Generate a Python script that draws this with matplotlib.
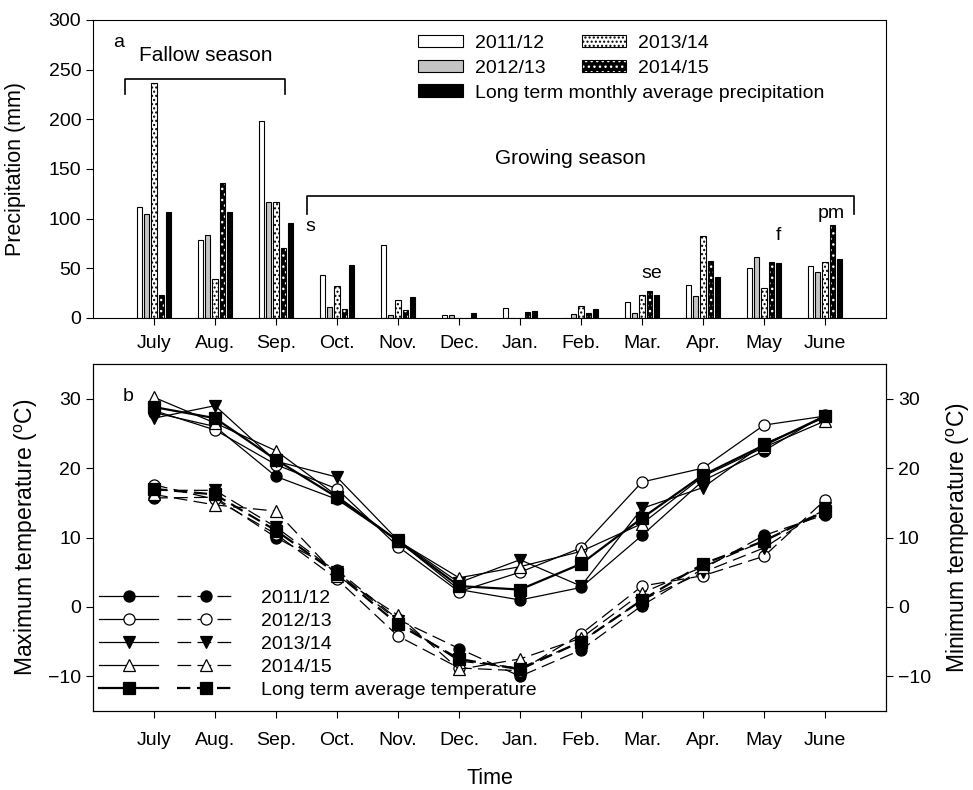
import numpy as np
import matplotlib
matplotlib.use("Agg")
import matplotlib.pyplot as plt
from matplotlib.legend_handler import HandlerTuple

plt.rcParams['font.family'] = ['Liberation Sans', 'DejaVu Sans']
plt.rcParams['mathtext.fontset'] = 'custom'
plt.rcParams['mathtext.rm'] = 'Liberation Sans'

# datos
months = ['July', 'Aug.', 'Sep.', 'Oct.', 'Nov.', 'Dec.', 'Jan.', 'Feb.', 'Mar.', 'Apr.', 'May', 'June']
seasons = ['2011/12', '2012/13', '2013/14', '2014/15']

p_2011 = [112, 79, 198, 43, 73, 3, 10, 0, 16, 33, 50, 52]
p_2012 = [105, 84, 117, 11, 3, 3, 0, 4, 5, 22, 61, 46]
p_2013 = [237, 39, 117, 32, 18, 0, 0, 12, 23, 83, 30, 56]
p_2014 = [23, 136, 70, 9, 8, 0, 6, 5, 27, 57, 56, 94]
p_lt = [107, 107, 96, 53, 21, 5, 7, 9, 23, 41, 55, 59]

t_max_2011 = [28.0, 26.0, 18.8, 15.5, 9.5, 2.5, 1.0, 2.8, 10.3, 18.2, 22.5, 27.7]
t_max_2012 = [28.3, 25.5, 20.5, 17.0, 8.7, 2.2, 5.0, 8.5, 18.0, 20.0, 26.2, 27.5]
t_max_2013 = [27.2, 29.0, 21.0, 18.7, 9.6, 3.5, 6.8, 3.0, 14.2, 17.2, 23.5, 27.3]
t_max_2014 = [30.2, 26.5, 22.5, 16.0, 9.5, 4.2, 5.8, 8.0, 12.0, 18.8, 23.0, 26.8]
t_max_lt = [28.8, 27.2, 21.2, 15.8, 9.5, 3.0, 2.5, 6.2, 12.8, 19.0, 23.3, 27.5]

t_min_2011 = [15.7, 15.8, 10.0, 5.3, -1.8, -6.0, -10.0, -6.2, 0.2, 5.5, 10.3, 13.3]
t_min_2012 = [17.6, 15.5, 10.5, 4.0, -4.2, -8.8, -9.2, -3.9, 3.0, 4.5, 7.3, 15.4]
t_min_2013 = [16.8, 16.8, 11.5, 5.0, -2.0, -7.8, -8.8, -5.0, 1.0, 5.0, 8.5, 14.2]
t_min_2014 = [16.2, 14.7, 13.8, 4.5, -1.2, -9.0, -7.5, -4.5, 2.0, 5.8, 9.5, 14.0]
t_min_lt = [17.0, 16.2, 11.0, 4.8, -2.5, -7.5, -9.0, -5.0, 1.0, 6.2, 9.5, 13.8]

x = np.arange(1, 13)

fig = plt.figure(figsize=(9.73, 7.9), dpi=100)
ax1 = fig.add_axes([0.0956, 0.5975, 0.815, 0.3772])
ax2 = fig.add_axes([0.0956, 0.100, 0.815, 0.4392])

# a) precipitacion
w = 0.09
d = 0.12
b1 = ax1.bar(x - 2*d, p_2011, w, color='white', edgecolor='black', lw=0.8)
b2 = ax1.bar(x - d, p_2012, w, color='#c4c4c4', edgecolor='black', lw=0.8)
b3 = ax1.bar(x, p_2013, w, color='white', edgecolor='black', hatch='....', lw=0.8)
b4a = ax1.bar(x + d, p_2014, w, color='black', edgecolor='white', hatch='...', lw=0)
b4b = ax1.bar(x + d, p_2014, w, fill=False, edgecolor='black', lw=0.8)
b5 = ax1.bar(x + 2*d, p_lt, w, color='black', edgecolor='black', lw=0.8)

ax1.set_xlim(0, 13)
ax1.set_ylim(0, 300)
ax1.set_yticks(range(0, 301, 50))
ax1.set_xticks(x)
ax1.set_xticklabels(months)
ax1.tick_params(direction='out', length=5, labelsize=14)
ax1.tick_params(axis='x', pad=7)
ax1.set_ylabel('Precipitation (mm)', fontsize=15.5, labelpad=16)

# corchetes de las estaciones
ax1.plot([0.53, 0.53, 3.14, 3.14], [225, 241, 241, 225], color='black', lw=1.2)
ax1.plot([3.5, 3.5, 12.48, 12.48], [105, 123, 123, 105], color='black', lw=1.2)
ax1.text(1.85, 264, 'Fallow season', fontsize=15, ha='center', va='center')
ax1.text(7.82, 161, 'Growing season', fontsize=15, ha='center', va='center')
ax1.text(0.42, 277, 'a', fontsize=14, ha='center', va='center')
ax1.text(3.56, 92, 's', fontsize=14, ha='center', va='center')
ax1.text(9.16, 45, 'se', fontsize=14, ha='center', va='center')
ax1.text(11.23, 83, 'f', fontsize=14, ha='center', va='center')
ax1.text(12.11, 105, 'pm', fontsize=14, ha='center', va='center')

leg1 = ax1.legend([b1, b2, b5], [seasons[0], seasons[1], 'Long term monthly average precipitation'],
                  loc='upper left', bbox_to_anchor=(0.41, 0.95), frameon=False, fontsize=14,
                  handlelength=2.3, handleheight=0.6, handletextpad=0.6, labelspacing=0.4,
                  borderpad=0, borderaxespad=0)
ax1.add_artist(leg1)
ax1.legend([b3, (b4a, b4b)], [seasons[2], seasons[3]],
           handler_map={tuple: HandlerTuple(ndivide=1)},
           loc='upper left', bbox_to_anchor=(0.616, 0.95), frameon=False, fontsize=14,
           handlelength=2.3, handleheight=0.6, handletextpad=0.6, labelspacing=0.4,
           borderpad=0, borderaxespad=0)

# b) temperatura
estilos = [('o', 'black'), ('o', 'white'), ('v', 'black'), ('^', 'white'), ('s', 'black')]
maximas = [t_max_2011, t_max_2012, t_max_2013, t_max_2014, t_max_lt]
minimas = [t_min_2011, t_min_2012, t_min_2013, t_min_2014, t_min_lt]
etiquetas = seasons + ['Long term average temperature']

handles = []
for i in range(5):
    m, fc = estilos[i]
    lw = 1.6 if i == 4 else 0.9
    l1, = ax2.plot(x, maximas[i], color='black', lw=lw, marker=m, ms=8,
                   markerfacecolor=fc, markeredgecolor='black', markeredgewidth=0.9)
    l2, = ax2.plot(x, minimas[i], color='black', lw=lw, marker=m, ms=8,
                   dashes=(11, 5) if i < 4 else (6, 3),
                   markerfacecolor=fc, markeredgecolor='black', markeredgewidth=0.9)
    handles.append((l1, l2))

ax2.set_xlim(0, 13)
ax2.set_ylim(-15, 35)
ax2.set_yticks([-10, 0, 10, 20, 30])
ax2.set_xticks(x)
ax2.set_xticklabels(months)
ax2.tick_params(direction='out', length=5, labelsize=14)
ax2.tick_params(axis='x', pad=10)
ax2.set_ylabel(r'Maximum temperature ($^{\rm o}$C)', fontsize=16.5, labelpad=6)
ax2.set_xlabel('Time', fontsize=15.5, labelpad=14)
ax2.text(0.57, 30.3, 'b', fontsize=14, ha='center', va='center')

ax3 = ax2.twinx()
ax3.set_ylim(-15, 35)
ax3.set_yticks([-10, 0, 10, 20, 30])
ax3.tick_params(direction='out', length=5, labelsize=14)
ax3.set_ylabel(r'Minimum temperature ($^{\rm o}$C)', fontsize=16.5, labelpad=10)

ax2.legend(handles, etiquetas, handler_map={tuple: HandlerTuple(ndivide=2, pad=1.0)},
           loc='lower left', bbox_to_anchor=(0.008, 0.035), frameon=False, fontsize=14,
           handlelength=7.0, handletextpad=1.3, labelspacing=0.28,
           borderpad=0, borderaxespad=0)

plt.savefig('out.png', dpi=100)
